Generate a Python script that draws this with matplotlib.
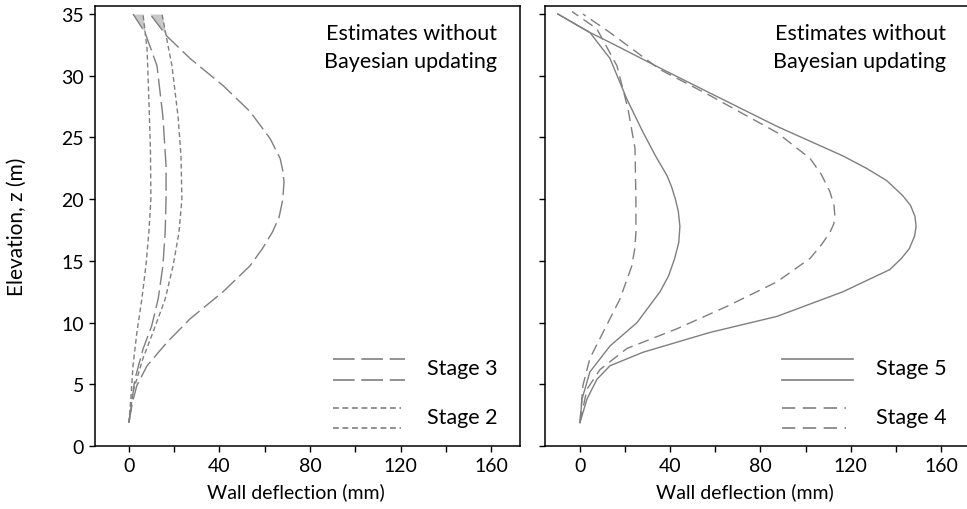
import numpy as np
import matplotlib
matplotlib.use('Agg')
from matplotlib import pyplot as plt

plt.rcParams['font.family'] = ['Lato', 'DejaVu Sans']

# left panel: stage 2 and stage 3 (z in m, deflection in mm)
s2a_z = [1.9, 4.0, 6.5, 9.2, 11.9, 14.6, 17.3, 20.0, 24.0, 28.1, 32.2, 35.0]
s2a_x = [0, 0.9, 1.8, 3.5, 5.7, 7.5, 8.8, 9.7, 9.5, 8.8, 8.0, 6.2]
s2b_z = [1.9, 4.4, 7.1, 9.2, 11.9, 14.6, 17.3, 20.0, 23.5, 26.7, 30.8, 35.0]
s2b_x = [0, 1.8, 6.2, 10.6, 16, 19.5, 22.1, 23.4, 23.0, 21.7, 19, 14.6]
s3a_z = [1.9, 5.4, 7.9, 9.7, 11.9, 14.6, 17.3, 20.0, 22.7, 26.7, 30.8, 33.5, 35.0]
s3a_x = [0, 2.6, 6.3, 10, 12.9, 15, 16, 16.4, 16.4, 15, 12.4, 7.1, 1.8]
s3b_z = [1.9, 3.5, 4.9, 6.5, 8.4, 10.3, 12.5, 14.6, 16.0, 17.3, 18.5, 20.0, 21.4, 22.3,
         23.3, 24.9, 27.1, 29.2, 31.4, 33.2, 35.0]
s3b_x = [0, 1.5, 3.5, 8, 16.8, 27, 41.6, 53.5, 59.0, 63.3, 66.3, 68, 68.5, 68.0,
         66.8, 62.4, 53.5, 41.6, 27, 16.8, 9.3]

# right panel: stage 4 and stage 5
s4a_z = [1.9, 4.9, 7.1, 9.2, 11.9, 14.6, 16.0, 17.3, 20.0, 24.1, 27.3, 30.8, 33.8, 35.2]
s4a_x = [0, 1.3, 4.4, 10.2, 17.7, 23, 24.3, 24.8, 24.8, 24.4, 21.3, 16.4, 7.5, -3.5]
s4b_z = [1.9, 4.6, 6.2, 7.9, 9.5, 11.3, 13.3, 15.2, 16.3, 17.3, 18.0, 18.6, 19.5, 20.6,
         22.0, 23.3, 25.4, 28.4, 30.5, 33.5, 35.0]
s4b_x = [0, 3.1, 8.9, 20.8, 43, 65, 87.3, 102, 107.0, 110.8, 112.5, 113, 112.6, 110.8,
         107.0, 102, 87.3, 57.6, 35.5, 13.3, 1.3]
s5a_z = [1.9, 3.8, 6.0, 8.1, 9.0, 10.0, 12.5, 13.8, 15.2, 16.5, 17.8, 19.0, 20.0, 21.0,
         21.9, 23.5, 25.4, 28.1, 31.4, 33.5, 35.0]
s5a_x = [0, 0.9, 4.4, 13.3, 19.0, 25.3, 35.5, 39.3, 42, 43.8, 44.3, 43.6, 42.3, 40.6,
         38.6, 33.5, 28, 20.8, 13.3, 4.4, -9.8]
s5b_z = [1.9, 3.8, 5.4, 6.5, 7.6, 9.2, 10.5, 12.5, 14.3, 15.2, 16.0, 17.0, 17.8, 18.6,
         19.5, 20.3, 21.5, 22.5, 23.5, 25.9, 28.6, 30.5, 32.7, 33.5, 35.0]
s5b_x = [0, 3.1, 7.5, 13.3, 28, 57.6, 87.3, 116.6, 137.4, 142.5, 146, 148.3, 149, 148.5,
         146.5, 143, 136, 127, 116.6, 87.3, 57.6, 36.8, 13.3, 4.4, -9.8]

xticks = [0, 40, 80, 120, 160]
yticks = [0, 5, 10, 15, 20, 25, 30, 35]
note = 'Estimates without\nBayesian updating'

grey = '#7f7f7f'
lw = 1.0
st2 = (0, (3.5, 2.2))
st3 = (0, (13, 4))
st4 = (0, (8, 4.5))
st5 = '-'
fs = 15.5

fig = plt.figure(figsize=(9.67, 5.10), dpi=100)
ax1 = fig.add_axes([95 / 967, 63 / 510, 425 / 967, 440 / 510])
ax2 = fig.add_axes([545 / 967, 63 / 510, 423 / 967, 440 / 510])

# small shaded slivers at the top of the left panel
zz = np.linspace(33.5, 35.0, 20)
ax1.fill_betweenx(zz, np.interp(zz, s3a_z, s3a_x), np.interp(zz, s2a_z, s2a_x),
                  where=np.interp(zz, s3a_z, s3a_x) < np.interp(zz, s2a_z, s2a_x),
                  color='#c8c8c8', lw=0)
zz = np.linspace(33.2, 35.0, 20)
ax1.fill_betweenx(zz, np.interp(zz, s3b_z, s3b_x), np.interp(zz, s2b_z, s2b_x),
                  where=np.interp(zz, s3b_z, s3b_x) < np.interp(zz, s2b_z, s2b_x),
                  color='#c8c8c8', lw=0)

ax1.plot(s2a_x, s2a_z, color=grey, lw=lw, ls=st2)
ax1.plot(s2b_x, s2b_z, color=grey, lw=lw, ls=st2)
ax1.plot(s3a_x, s3a_z, color=grey, lw=lw, ls=st3)
ax1.plot(s3b_x, s3b_z, color=grey, lw=lw, ls=st3)

ax2.plot(s4a_x, s4a_z, color=grey, lw=lw, ls=st4)
ax2.plot(s4b_x, s4b_z, color=grey, lw=lw, ls=st4)
ax2.plot(s5a_x, s5a_z, color=grey, lw=lw, ls=st5)
ax2.plot(s5b_x, s5b_z, color=grey, lw=lw, ls=st5)

ax1.set_xlim(-15, 172.8)
ax2.set_xlim(-15.5, 172)
for ax in (ax1, ax2):
    ax.set_ylim(0, 35.65)
    ax.set_xticks(range(0, 161, 20))
    ax.set_xticklabels([str(v) if v in xticks else '' for v in range(0, 161, 20)])
    ax.set_yticks(yticks)
    ax.tick_params(direction='out', length=4, width=1, labelsize=14, pad=4)
    for s in ax.spines.values():
        s.set_linewidth(1.1)
    ax.set_xlabel('Wall deflection (mm)', fontsize=14)
    ax.xaxis.set_label_coords(0.472, -0.083, transform=ax.transAxes)
ax2.set_yticklabels([])
ax2.spines['right'].set_visible(False)
ax1.set_ylabel('Elevation, z (m)', fontsize=15)
ax1.yaxis.set_label_coords(-0.16, 0.5, transform=ax1.transAxes)

# notes and hand-drawn legends
leg = [(ax1, 'Stage 3', st3, 'Stage 2', st2, 333, 405, 401, 427),
       (ax2, 'Stage 5', st5, 'Stage 4', st4, 782, 853, 846, 876)]
for ax, t1, ls1, t2, ls2, x0, x1, x2, xt in leg:
    ax.text(0.947, 0.962, note, transform=ax.transAxes, ha='right', va='top',
            fontsize=fs, linespacing=1.5)
    tr = fig.transFigure
    for y in (360, 381):
        fig.add_artist(plt.Line2D([x0 / 967, x1 / 967], [1 - y / 510] * 2,
                                  color=grey, lw=1.2, ls=ls1, transform=tr))
    for y in (409, 429):
        fig.add_artist(plt.Line2D([x0 / 967, x2 / 967], [1 - y / 510] * 2,
                                  color=grey, lw=1.2, ls=ls2, transform=tr))
    fig.text(xt / 967, 1 - 369 / 510, t1, fontsize=fs, va='center')
    fig.text(xt / 967, 1 - 418 / 510, t2, fontsize=fs, va='center')

fig.savefig('out.png', dpi=100)
